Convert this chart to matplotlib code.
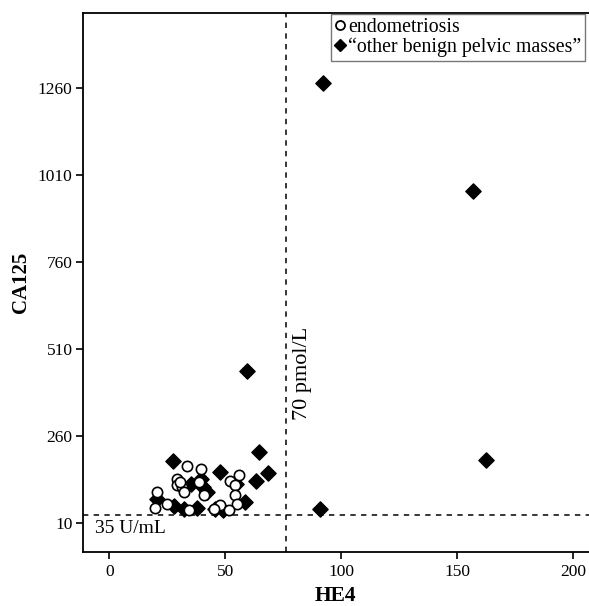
import matplotlib
matplotlib.use("Agg")
import matplotlib.pyplot as plt
from matplotlib.lines import Line2D

plt.rcParams['font.family'] = ['Liberation Serif', 'DejaVu Serif']

# Data
endo_he4 = [20.7, 19.5, 24.7, 33.6, 39.3, 29.0, 29.3, 31.4, 32.1, 30.3, 40.7,
            56.1, 52.1, 54.3, 54.3, 55.0, 47.9, 51.4, 34.3, 45.0, 38.5]
endo_ca125 = [100, 55, 66, 176, 165, 138, 119, 114, 100, 128, 90,
              149, 133, 119, 90, 66, 62, 47, 47, 50, 130]

other_he4 = [27.5, 64.7, 47.6, 68.3, 63.2, 54.7, 39.3, 40.4, 42.1, 35.0, 58.6,
             20.7, 27.8, 32.1, 37.9, 45.7, 49.0, 156.6, 92.0, 162.5, 59.5, 90.8]
other_ca125 = [188, 215, 157, 155, 133, 124, 138, 114, 100, 124, 71,
               81, 59, 52, 55, 52, 47, 964, 1274, 193, 448, 50]

he4_cutoff = 76
ca125_cutoff = 35
yticks = [10, 260, 510, 760, 1010, 1260]
xticks = [0, 50, 100, 150, 200]

fig = plt.figure(figsize=(5.89, 6.06), dpi=100)
ax = fig.add_axes([0.1404, 0.0899, 0.8596, 0.8892])

ax.scatter(other_he4, other_ca125, marker='D', s=60, facecolor='black',
           edgecolor='black', zorder=3)
ax.scatter(endo_he4, endo_ca125, marker='o', s=55, facecolor='white',
           edgecolor='black', linewidth=1.2, zorder=4)

ax.axvline(he4_cutoff, color='black', linestyle=(0, (3.5, 3.5)), linewidth=1.1, zorder=2)
ax.axhline(ca125_cutoff, color='black', linestyle=(0, (3.5, 3.5)), linewidth=1.1, zorder=2)

ax.text(he4_cutoff + 3, 440, '70 pmol/L', rotation=90, fontsize=16,
        ha='left', va='center')
ax.text(-6.2, -4, '35 U/mL', fontsize=14, ha='left', va='center')

ax.set_xlim(-11.5, 206.8)
ax.set_ylim(-71, 1477)
ax.set_xticks(xticks)
ax.set_yticks(yticks)
ax.tick_params(direction='out', length=5.2, width=1.2, labelsize=12.5, pad=2)
ax.tick_params(axis='x', pad=4)
ax.spines['right'].set_visible(False)
for s in ['left', 'bottom', 'top']:
    ax.spines[s].set_linewidth(1.3)

ax.set_xlabel('HE4', fontsize=15.5, fontweight='bold', labelpad=4)
ax.set_ylabel('CA125', fontsize=15, fontweight='bold', labelpad=5)

handles = [
    Line2D([], [], marker='o', linestyle='none', markerfacecolor='white',
           markeredgecolor='black', markersize=6.5, markeredgewidth=1.3),
    Line2D([], [], marker='D', linestyle='none', markerfacecolor='black',
           markeredgecolor='black', markersize=6),
]
leg = ax.legend(handles, ['endometriosis', '\u201cother benign pelvic masses\u201d'],
                loc='upper right', bbox_to_anchor=(0.993, 0.997), fontsize=14.3,
                frameon=True, fancybox=False, edgecolor='#555555',
                handlelength=0.5, handletextpad=0.15, borderpad=0.2,
                labelspacing=0.0, borderaxespad=0.0)
leg.get_frame().set_linewidth(1.0)

fig.savefig('out.png', dpi=100)
